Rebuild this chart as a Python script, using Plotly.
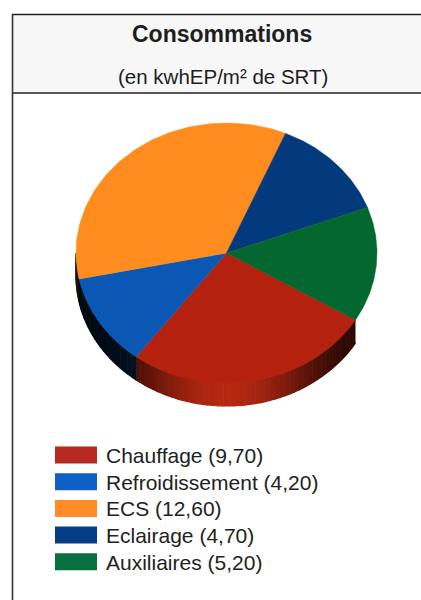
import numpy as np
import plotly.graph_objects as go

categories = ["Chauffage", "Refroidissement", "ECS", "Eclairage", "Auxiliaires"]
values = [9.7, 4.2, 12.6, 4.7, 5.2]
value_labels = ["9,70", "4,20", "12,60", "4,70", "5,20"]
top_colors = ["#B5210F", "#0A58B4", "#FF8C1E", "#033A7C", "#04672F"]
legend_colors = ["#B62A22", "#0F60C4", "#FF8C26", "#043F86", "#08703F"]
wall_rgb = [(165, 36, 16), (4, 38, 72), (120, 70, 10), (2, 30, 60), (3, 50, 28)]
title = "Consommations"
subtitle = "(en kwhEP/m² de SRT)"

W, H = 421, 600
cx, cy, rx, ry, depth = 226.5, 253.0, 150.5, 130.0, 23.0
start_deg = 31.0

fig = go.Figure()

edges = start_deg + np.concatenate([[0], np.cumsum(values)]) / sum(values) * 360

# extruded wall: thin strips shaded from dark at the sides to bright mid-front
for i, name in enumerate(categories):
    a0, a1 = edges[i], edges[i + 1]
    lo, hi = max(a0, 0), min(a1, 180)
    if lo >= hi:
        continue
    steps = np.append(np.arange(lo, hi, 2.0), hi)
    for s0, s1 in zip(steps[:-1], steps[1:]):
        mid = (s0 + s1) / 2
        k = max(0.0, np.sin(np.radians(mid))) ** 6
        shade = 0.25 + 0.85 * k
        c = tuple(int(min(255, v * shade)) for v in wall_rgb[i])
        t = np.linspace(s0, s1, 3)
        x = cx + rx * np.cos(np.radians(t))
        y = cy + ry * np.sin(np.radians(t))
        fig.add_trace(go.Scatter(
            x=np.concatenate([x, x[::-1]]),
            y=np.concatenate([y, (y + depth)[::-1]]),
            mode="lines", fill="toself", fillcolor="rgb(%d,%d,%d)" % c,
            line=dict(width=1.2, color="rgb(%d,%d,%d)" % c),
            hoverinfo="skip", showlegend=False))

# top face
for i, name in enumerate(categories):
    t = np.linspace(edges[i], edges[i + 1], 80)
    x = np.concatenate([[cx], cx + rx * np.cos(np.radians(t)), [cx]])
    y = np.concatenate([[cy], cy + ry * np.sin(np.radians(t)), [cy]])
    fig.add_trace(go.Scatter(
        x=x, y=y, mode="lines", fill="toself", fillcolor=top_colors[i],
        line=dict(width=0.5, color=top_colors[i]),
        name=name, hovertemplate=name + " (" + value_labels[i] + ")<extra></extra>",
        showlegend=False))

shapes = [
    dict(type="rect", x0=12.5, x1=422, y0=14.5, y1=93, line=dict(width=0), fillcolor="#F7F7F8", layer="below"),
    dict(type="line", x0=12, x1=421, y0=14.5, y1=14.5, line=dict(color="#222222", width=1.4)),
    dict(type="line", x0=12, x1=421, y0=93, y1=93, line=dict(color="#222222", width=1.4)),
    dict(type="line", x0=12.5, x1=12.5, y0=14, y1=600, line=dict(color="#333333", width=1.6)),
]
annotations = [
    dict(x=222, y=34, text="<b>%s</b>" % title, showarrow=False, xanchor="center", yanchor="middle",
         font=dict(family="Liberation Sans", size=23, color="#1E1E1E")),
    dict(x=222.5, y=76, text=subtitle, showarrow=False, xanchor="center", yanchor="middle",
         font=dict(family="Liberation Sans", size=20.5, color="#1E1E1E")),
]
for i, name in enumerate(categories):
    yc = 455 + i * 26.7
    shapes.append(dict(type="rect", x0=55, x1=97, y0=yc - 8.5, y1=yc + 8.5,
                       line=dict(width=0), fillcolor=legend_colors[i]))
    annotations.append(dict(x=105.5, y=yc + 0.5, text="%s (%s)" % (name, value_labels[i]),
                            showarrow=False, xanchor="left", yanchor="middle", xshift=-2,
                            font=dict(family="Liberation Sans", size=21, color="#222222")))

fig.update_layout(
    width=W, height=H, margin=dict(l=0, r=0, t=0, b=0),
    paper_bgcolor="white", plot_bgcolor="white", showlegend=False,
    xaxis=dict(range=[0, W], visible=False, fixedrange=True),
    yaxis=dict(range=[H, 0], visible=False, fixedrange=True),
    shapes=shapes, annotations=annotations,
)
fig.write_html("out.html", config={"displayModeBar": False},
               post_script="document.body.style.margin='0';document.documentElement.style.overflow='hidden';")
